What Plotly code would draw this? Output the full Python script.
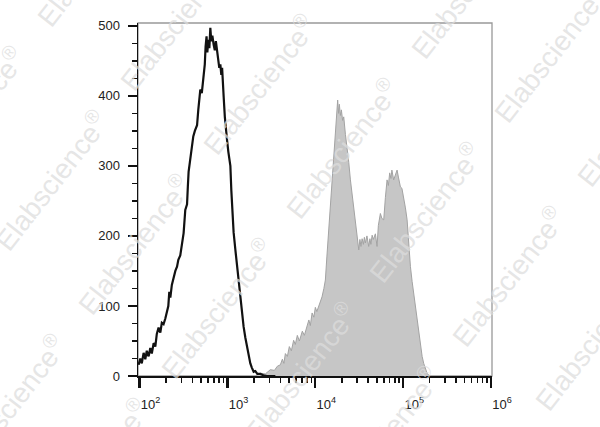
import plotly.graph_objects as go

# ---- data (log10 of fluorescence intensity, event counts) ----
ctrl_log = [1.989, 2.008, 2.025, 2.046, 2.065, 2.082, 2.103, 2.122, 2.139, 2.160,
            2.179, 2.196, 2.216, 2.236, 2.253, 2.273, 2.293, 2.312, 2.327, 2.338,
            2.350, 2.367, 2.387, 2.407, 2.426, 2.441, 2.463, 2.481, 2.501, 2.520,
            2.540, 2.549, 2.558, 2.572, 2.583, 2.597, 2.611, 2.629, 2.654, 2.668,
            2.680, 2.691, 2.708, 2.729, 2.742, 2.751, 2.762, 2.771, 2.782, 2.794,
            2.805, 2.816, 2.828, 2.843, 2.856, 2.868, 2.881, 2.896, 2.907, 2.919,
            2.930, 2.939, 2.947, 2.957, 2.970, 2.982, 2.995, 3.010, 3.021, 3.033,
            3.044, 3.052, 3.070, 3.090, 3.109, 3.127, 3.146, 3.164, 3.184, 3.203,
            3.223, 3.243, 3.260, 3.277, 3.298, 3.317, 3.340, 3.374, 3.408, 3.450, 3.545]
ctrl_count = [16, 25, 18, 33, 24, 36, 28, 40, 32, 47,
              42, 60, 69, 62, 76, 74, 82, 90, 100, 120,
              112, 130, 142, 150, 156, 166, 172, 190, 204, 237,
              245, 270, 292, 305, 318, 330, 342, 350, 358, 380,
              395, 409, 404, 425, 445, 470, 485, 462, 480, 468,
              497, 478, 486, 473, 465, 478, 462, 452, 440, 445,
              430, 440, 410, 398, 370, 350, 337, 320, 312, 300,
              265, 245, 205, 180, 156, 132, 109, 90, 70, 55,
              42, 28, 18, 12, 6, 7, 3, 3, 1, 0, 0]

stain_log = [3.317, 3.374, 3.431, 3.488, 3.534, 3.568, 3.602, 3.625, 3.642, 3.659,
             3.682, 3.704, 3.727, 3.753, 3.772, 3.795, 3.818, 3.829, 3.852, 3.875,
             3.906, 3.926, 3.943, 3.963, 3.983, 4.000, 4.017, 4.038, 4.057, 4.076,
             4.097, 4.114, 4.131, 4.152, 4.171, 4.190, 4.208, 4.228, 4.242, 4.254,
             4.264, 4.273, 4.285, 4.296, 4.310, 4.323, 4.342, 4.361, 4.380, 4.399,
             4.428, 4.456, 4.473, 4.494, 4.507, 4.519, 4.532, 4.547, 4.558, 4.569,
             4.587, 4.598, 4.607, 4.621, 4.632, 4.646, 4.660, 4.683, 4.702, 4.717,
             4.740, 4.757, 4.778, 4.797, 4.816, 4.831, 4.846, 4.860, 4.871, 4.891,
             4.911, 4.930, 4.945, 4.968, 4.985, 5.005, 5.025, 5.044, 5.062, 5.082,
             5.101, 5.119, 5.138, 5.158, 5.176, 5.195, 5.215, 5.233, 5.252, 5.271,
             5.292, 5.309]
stain_count = [0, 4, 3, 9, 8, 14, 16, 24, 18, 32,
               28, 42, 36, 51, 45, 58, 50, 56, 64, 58,
               70, 80, 72, 90, 84, 98, 92, 99, 108, 113,
               125, 137, 170, 209, 245, 280, 315, 351, 380, 394,
               375, 388, 372, 380, 365, 370, 345, 328, 305, 280,
               250, 223, 205, 180, 195, 185, 196, 188, 198, 190,
               200, 186, 185, 196, 188, 201, 195, 203, 185, 215,
               232, 225, 223, 255, 280, 272, 290, 282, 294, 280,
               288, 294, 284, 270, 268, 256, 240, 223, 190, 156,
               135, 118, 98, 80, 60, 42, 28, 18, 10, 4,
               1, 0]

x_tick_vals = [1e2, 1e3, 1e4, 1e5, 1e6]
x_tick_text = ["10<sup>2</sup>", "10<sup>3</sup>", "10<sup>4</sup>", "10<sup>5</sup>", "10<sup>6</sup>"]
y_tick_vals = [0, 100, 200, 300, 400, 500]
watermark_text = "Elabscience<sup>®</sup>"

ctrl_x = [10 ** v for v in ctrl_log]
stain_x = [10 ** v for v in stain_log]
minor_vals = [m * 10 ** k for k in range(2, 6) for m in range(2, 10)]

fig = go.Figure()
fig.add_trace(go.Scatter(x=stain_x, y=stain_count, mode="lines", fill="tozeroy",
                         fillcolor="#c6c6c6", line=dict(color="#a3a3a3", width=1),
                         hoverinfo="skip", showlegend=False))
fig.add_trace(go.Scatter(x=ctrl_x, y=ctrl_count, mode="lines",
                         line=dict(color="#111111", width=2.2),
                         hoverinfo="skip", showlegend=False))

W, H = 600, 427
L, R, T, B = 138, 108, 23, 51
pw, ph = W - L - R, H - T - B

# watermark lattice (pixel positions of text centres)
annotations = []
c0x, c0y = 342, 148
ax_, ay_ = 125, -160
bx_, by_ = 83, 64
for i in range(-4, 5):
    for j in range(-9, 10):
        cx = c0x + i * ax_ + j * bx_
        cy = c0y + i * ay_ + j * by_
        if -130 < cx < 730 and -110 < cy < 540:
            annotations.append(dict(
                text=watermark_text, x=(cx - L) / pw, y=(H - B - cy) / ph,
                xref="paper", yref="paper", showarrow=False, textangle=-52,
                xanchor="center", yanchor="middle",
                font=dict(family="Liberation Sans, Arial", size=28,
                          color="rgba(221,221,221,0.74)")))

fig.update_layout(
    width=W, height=H,
    margin=dict(l=L, r=R, t=T, b=B),
    paper_bgcolor="white", plot_bgcolor="white",
    font=dict(family="Liberation Sans, Arial", size=13, color="#222222"),
    annotations=annotations,
    shapes=[dict(type="rect", xref="paper", yref="paper", x0=0, x1=1, y0=0, y1=1,
                 line=dict(color="#999999", width=1.3), layer="below")],
    xaxis=dict(type="log", range=[1.982, 6.01], showgrid=False, zeroline=False,
               showline=True, linecolor="#111111", linewidth=2,
               tickmode="array", tickvals=x_tick_vals, ticktext=x_tick_text,
               ticks="outside", ticklen=10, tickwidth=2.2, tickcolor="#111111",
               minor=dict(tickmode="array", tickvals=minor_vals, ticks="outside",
                          ticklen=5, tickwidth=1.6, tickcolor="#111111"),
               ticklabelshift=11, ticklabelstandoff=5,
               tickfont=dict(size=13, color="#222222")),
    yaxis=dict(range=[0, 504], showgrid=False, zeroline=False,
               showline=True, linecolor="#111111", linewidth=1.5,
               tickmode="array", tickvals=y_tick_vals,
               ticks="outside", ticklen=9, tickwidth=2.2, tickcolor="#111111",
               minor=dict(dtick=25, tick0=0, ticks="outside", ticklen=5,
                          tickwidth=1.6, tickcolor="#111111"),
               ticklabelstandoff=5,
               tickfont=dict(size=13, color="#222222")),
)

fig.write_html("out.html", config={"displayModeBar": False, "staticPlot": True},
               post_script="document.body.style.margin='0';document.body.style.overflow='hidden';")
